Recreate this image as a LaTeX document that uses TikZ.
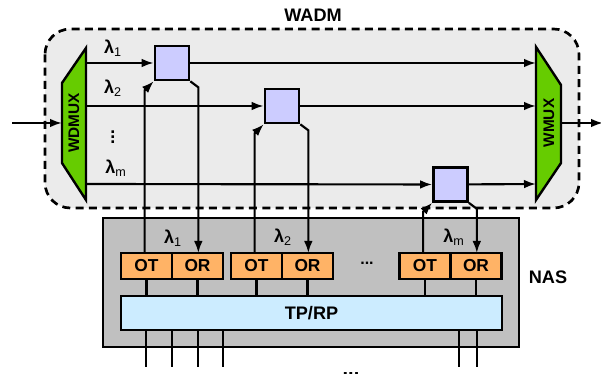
\documentclass[tikz,border=0pt]{standalone}
\usepackage{fontspec}
\setmainfont{Liberation Sans}
\usetikzlibrary{arrows.meta,positioning,calc}

\definecolor{wadmgray}{RGB}{235,235,235}
\definecolor{swblue}{RGB}{204,204,255}
\definecolor{muxgreen}{RGB}{102,204,0}
\definecolor{nasgray}{RGB}{192,192,192}
\definecolor{otorange}{RGB}{255,179,102}
\definecolor{tpblue}{RGB}{204,236,255}

\begin{document}
\begin{tikzpicture}[x=0.75pt,y=-0.75pt,>={Latex[length=9pt,width=6.5pt]},
    wire/.style={line width=1.6pt},
    switchbox/.style={draw,line width=2pt,fill=swblue,minimum size=25.5pt,inner sep=0pt},
    portbox/.style={draw,line width=1.8pt,fill=otorange,minimum width=38.25pt,minimum height=19.5pt,inner sep=0pt,outer sep=0pt,font=\bfseries\fontsize{13}{15}\selectfont},
    biglabel/.style={font=\bfseries\fontsize{13.6}{16}\selectfont},
    lam/.style={font=\bfseries\fontsize{13.5}{15}\selectfont,inner sep=0pt}]
    \useasboundingbox (0,0) rectangle (601,374);

    % WADM
    \draw[fill=wadmgray,line width=2pt,dash pattern=on 6pt off 4pt,rounded corners=19pt] (45,29) rectangle (579,208);
    \node[biglabel](wadm) at (313,15){WADM};

    \draw[fill=muxgreen,line width=1.8pt] (86,48) -- (86,200) -- (62,163) -- (62,83) -- cycle;
    \node[rotate=90,font=\bfseries\fontsize{11.5}{13}\selectfont](wdmux) at (74,123){WDMUX};
    \draw[fill=muxgreen,line width=1.8pt] (536,47) -- (536,200) -- (561,163) -- (561,85) -- cycle;
    \node[rotate=90,font=\bfseries\fontsize{11.5}{13}\selectfont](wmux) at (549,123){WMUX};

    \coordinate (src) at (12,123);
    \coordinate (dst) at (603,123);
    \coordinate (dmx) at (62,123);
    \coordinate (mx) at (561,123);
    \coordinate (in1) at (86,63);
    \coordinate (in2) at (86,106);
    \coordinate (in3) at (86,184);
    \coordinate (out1) at (536,63);
    \coordinate (out2) at (536,106);
    \coordinate (out3) at (536,184);

    \node[lam](lw1) at (113,48){λ\textsubscript{\mdseries 1}};
    \node[lam](lw2) at (113,88){λ\textsubscript{\mdseries 2}};
    \node[lam](lwd) at (113,133){\vdots};
    \node[lam](lwm) at (116,168){λ\textsubscript{\mdseries m}};

    % NAS
    \node[draw,line width=1.8pt,fill=nasgray,minimum width=312pt,minimum height=96.75pt](nas) at (311,282.5){};
    \node[biglabel](naslabel) at (548,277){NAS};
    \node[draw,line width=1.8pt,fill=tpblue,minimum width=285.75pt,minimum height=25.5pt,biglabel](tprp) at (311.5,313){TP/RP};

    \node[portbox](ot1) at (146.5,266){OT};
    \node[portbox](or1)[right=0pt of ot1]{OR};
    \node[portbox](ot2) at (256.5,266){OT};
    \node[portbox](or2)[right=0pt of ot2]{OR};
    \node[portbox](ot3) at (425,266){OT};
    \node[portbox](or3)[right=0pt of ot3]{OR};
    \node[font=\bfseries\fontsize{12}{14}\selectfont](dots) at (367,263){...};
    \node[font=\bfseries\fontsize{15}{17}\selectfont,anchor=base](bdots) at (351,376){...};

    \node[lam](ln1) at (173,238){λ\textsubscript{\mdseries 1}};
    \node[lam](ln2) at (283,237){λ\textsubscript{\mdseries 2}};
    \node[lam](lnm) at (454,237){λ\textsubscript{\mdseries m}};

    % switches
    \node[switchbox](sw1) at (172,63){};
    \node[switchbox](sw2) at (282,106){};
    \node[switchbox](sw3) at (450.5,184.5){};

    \draw[wire,->] (src) -- (dmx);
    \draw[wire,->] (mx) -- (dst);
    \draw[wire,->] (in1) -- (sw1);
    \draw[wire,->] (sw1) -- (out1);
    \draw[wire,->] (in2) -- (sw2);
    \draw[wire,->] (sw2) -- (out2);
    \draw[wire,->] (in3) -- (sw3);
    \draw[wire,->] (sw3) -- (out3);

    % add / drop
    \coordinate (a1) at ($(sw1.south west)+(-9,9)$);
    \coordinate (a2) at ($(sw2.south west)+(-9,9)$);
    \coordinate (a3) at ($(sw3.south west)+(-9,9)$);
    \coordinate (d1) at ($(sw1.south east)+(8,6)$);
    \coordinate (d2) at ($(sw2.south east)+(8,6)$);
    \coordinate (d3) at ($(sw3.south east)+(8,6)$);
    \draw[wire,->] (a1 |- ot1.north) -- (a1) -- (sw1.south west);
    \draw[wire,->] (a2 |- ot2.north) -- (a2) -- (sw2.south west);
    \draw[wire,->] (a3 |- ot3.north) -- (a3) -- (sw3.south west);
    \draw[wire,->] (sw1.south east) -- (d1) -- (d1 |- or1.north);
    \draw[wire,->] (sw2.south east) -- (d2) -- (d2 |- or2.north);
    \draw[wire,->] (sw3.south east) -- (d3) -- (d3 |- or3.north);

    \draw[wire] (ot1.south) -- (ot1.south |- tprp.north);
    \draw[wire] (or1.south) -- (or1.south |- tprp.north);
    \draw[wire] (ot2.south) -- (ot2.south |- tprp.north);
    \draw[wire] (or2.south) -- (or2.south |- tprp.north);
    \draw[wire] (ot3.south) -- (ot3.south |- tprp.north);
    \draw[wire] (or3.south) -- (or3.south |- tprp.north);

    \foreach \x in {146,172,198,223,459,477}{
        \coordinate (b) at (\x,0);
        \draw[wire] (tprp.south -| b) -- ++(0,36);
    }
\end{tikzpicture}
\end{document}
